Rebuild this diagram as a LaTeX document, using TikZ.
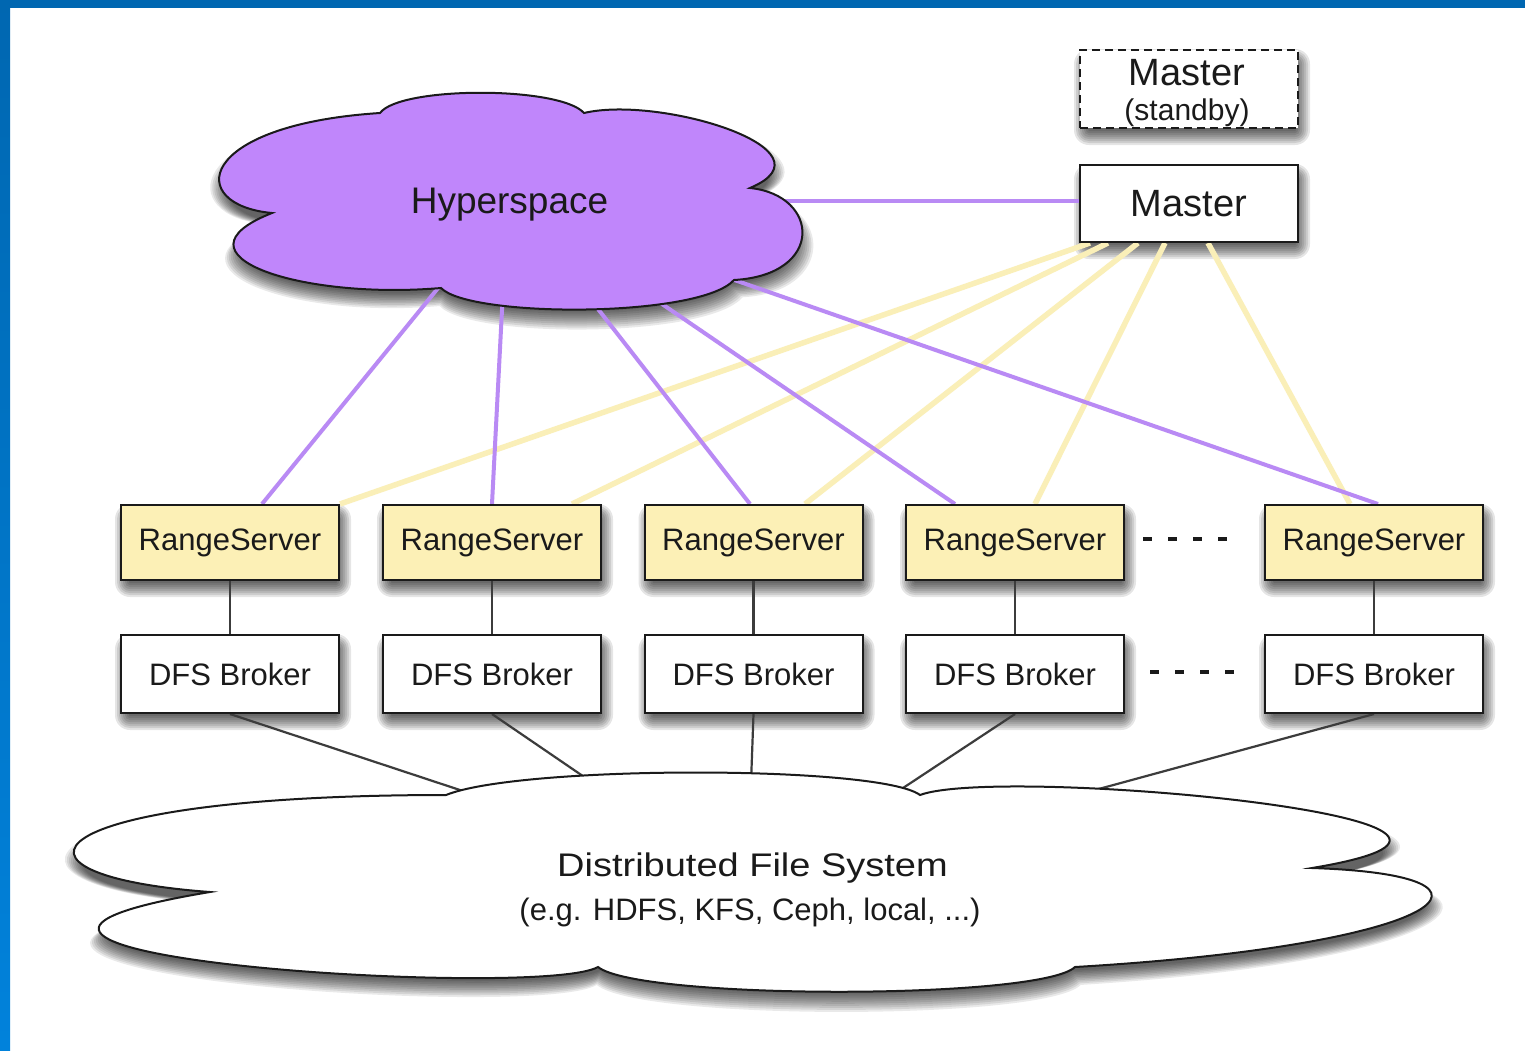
\documentclass[tikz,border=0pt]{standalone}
\usepackage{fontspec}
\setmainfont{Liberation Sans}
\usetikzlibrary{calc}

\definecolor{frameblue}{HTML}{0067B1}
\definecolor{frameblueb}{HTML}{0182DB}
\definecolor{hyperfill}{HTML}{C086FB}
\definecolor{hyperline}{HTML}{B98AF4}
\definecolor{rsfill}{HTML}{FCF0B6}
\definecolor{rsline}{HTML}{FAEFB8}
\definecolor{ink}{HTML}{1A1A1A}

\pgfdeclarelayer{frame}
\pgfdeclarelayer{shades}
\pgfdeclarelayer{links}
\pgfsetlayers{frame,shades,links,main}

% cloud outlines (pixel-like units, y grows downward)
\newcommand\HyperOutline{(272,213) .. controls (185,205) and (195,125) .. (380,113)
  .. controls (400,86) and (560,86) .. (584,113)
  .. controls (660,95) and (840,150) .. (750,188)
  .. controls (820,195) and (825,275) .. (734,280)
  .. controls (700,318) and (470,318) .. (441,288)
  .. controls (300,300) and (165,255) .. (272,213) -- cycle}
\newcommand\StoreOutline{(210,892) .. controls (-20,875) and (30,795) .. (446,795)
  .. controls (520,765) and (880,765) .. (920,795)
  .. controls (1000,765) and (1600,820) .. (1312,868)
  .. controls (1530,875) and (1450,945) .. (1075,967)
  .. controls (1040,1000) and (640,1000) .. (598,967)
  .. controls (540,1000) and (-170,955) .. (210,892) -- cycle}

% soft drop shadow under a rectangular node: stacked translucent fills
\newcommand\BoxShade[1]{%
  \begin{pgfonlayer}{shades}
    \foreach \r in {-6,-4,...,8}
      \fill[black, opacity=.1, rounded corners={\r+7pt}]
        ($(#1.north west)+(3-\r,8-\r)$) rectangle ($(#1.south east)+(3+\r,8+\r)$);
  \end{pgfonlayer}}

% soft shadow under a cloud: arg 1 = outline, 2 = centre x, 3 = centre y, 4 = width, 5 = height
\newcommand\CloudShade[5]{%
  \begin{pgfonlayer}{shades}
    \foreach \r in {-8,-6,...,10}
      \fill[black, opacity=.085, shift={(#2+1,#3+10)},
            xscale={1+2*\r/#4}, yscale={1+2*\r/#5}, shift={(-#2,-#3)}] #1;
  \end{pgfonlayer}}

\tikzset{
  box/.style={draw=ink, line width=2pt, minimum width=218pt, inner sep=0pt,
      text=ink, font=\fontsize{31pt}{33pt}\selectfont},
  rsbox/.style={box, fill=rsfill, minimum height=75pt},
  dfsbox/.style={box, fill=white, minimum height=78pt},
  txt/.style={inner sep=0pt, text=ink},
  blackline/.style={draw=ink!85, line width=2.2pt},
  hyperlink/.style={draw=hyperline, line width=4pt},
  masterlink/.style={draw=rsline, line width=5.5pt},
  ellipsis/.style={draw=ink, line width=4pt, dash pattern=on 9pt off 16pt}
}

\begin{document}
\begin{tikzpicture}[x=1pt,y=-1pt]
\useasboundingbox (0,0) rectangle (1525,1050);

% page frame
\begin{pgfonlayer}{frame}
  \fill[white] (0,0) rectangle (1525,1050);
  \fill[frameblue] (0,0) rectangle (1525,8);
  \shade[top color=frameblue, bottom color=frameblueb] (0,0) rectangle (10,1050);
\end{pgfonlayer}

% clouds
\CloudShade{\HyperOutline}{510}{200}{590}{220}
\CloudShade{\StoreOutline}{750}{880}{1360}{220}
\draw[draw=ink, line width=2pt, fill=hyperfill] \HyperOutline;
\draw[draw=ink, line width=2pt, fill=white] \StoreOutline;

\node[txt, font=\fontsize{37pt}{39pt}\selectfont, anchor=base] (hyper) at (509.5,213) {Hyperspace};
\node[txt, font=\fontsize{38pt}{40pt}\selectfont, anchor=base] (dfsname) at (752.5,876)
  {\scalebox{1}[0.86]{Distributed File System}};
\node[txt, font=\fontsize{31pt}{33pt}\selectfont, anchor=base] (dfsnote) at (750,920)
  {(e.g. HDFS, KFS, Ceph, local, ...)};

% masters
\node[box, fill=white, dash pattern=on 8pt off 5pt, minimum height=78pt] (standby) at (1189,89) {};
\BoxShade{standby}
\node[txt, font=\fontsize{38pt}{40pt}\selectfont, anchor=base] (standbyname) at (1187,85) {Master};
\node[txt, font=\fontsize{30pt}{32pt}\selectfont, anchor=base] (standbynote) at (1187,120) {(standby)};
\node[box, fill=white, minimum height=77pt, font=\fontsize{38pt}{40pt}\selectfont] (master) at (1189,203.5) {Master};
\BoxShade{master}

% range servers and their brokers
\foreach \i/\x in {1/230,2/492,3/753.5,4/1015,5/1374} {
  \node[rsbox] (rs\i) at (\x,542.5) {RangeServer};
  \node[dfsbox] (dfs\i) at (\x,674) {DFS Broker};
  \BoxShade{rs\i}
  \BoxShade{dfs\i}
}

% "more servers" marks
\draw[ellipsis] (1143,539) -- (1230,539);
\draw[ellipsis] (1150,672) -- (1237,672);

% attachment points
\coordinate (hsm) at (780,201);
\coordinate (hs1) at (443,282);
\coordinate (hs2) at (502.5,300);
\coordinate (hs3) at (591,300);
\coordinate (hs4) at (640,289);
\coordinate (hs5) at (720,275);
\coordinate (df1) at (466,792);
\coordinate (df2) at (591,781.6);
\coordinate (df3) at (751,783);
\coordinate (df4) at (894.7,793.5);
\coordinate (df5) at (1084,793);

\begin{pgfonlayer}{links}
  % master to range servers
  \draw[masterlink] ([xshift=-99pt]master.south) -- (rs1.north east);
  \draw[masterlink] ([xshift=-81pt]master.south) -- ([xshift=80pt]rs2.north);
  \draw[masterlink] ([xshift=-51pt]master.south) -- ([xshift=51.5pt]rs3.north);
  \draw[masterlink] ([xshift=-24pt]master.south) -- ([xshift=20pt]rs4.north);
  \draw[masterlink] ([xshift=19pt]master.south) -- ([xshift=-24pt]rs5.north);
  % hyperspace links
  \draw[hyperlink] (hsm) -- (master.west |- hsm);
  \draw[hyperlink] ([xshift=32pt]rs1.north) -- (hs1);
  \draw[hyperlink] (rs2.north) -- (hs2);
  \draw[hyperlink] ([xshift=-3.5pt]rs3.north) -- (hs3);
  \draw[hyperlink] ([xshift=-60pt]rs4.north) -- (hs4);
  \draw[hyperlink] ([xshift=4pt]rs5.north) -- (hs5);
  % server to broker to file system
  \foreach \i in {1,...,5} {
    \draw[blackline] (rs\i.south) -- (dfs\i.north);
    \draw[blackline] (dfs\i.south) -- (df\i);
  }
\end{pgfonlayer}
\end{tikzpicture}
\end{document}
